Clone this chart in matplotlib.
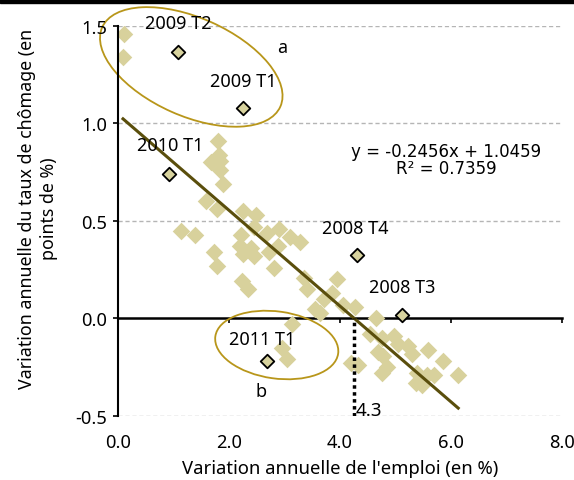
import matplotlib
matplotlib.use("Agg")
import matplotlib.pyplot as plt
from matplotlib.patches import Ellipse, Rectangle
from matplotlib.transforms import ScaledTranslation

plt.rcParams['font.family'] = ['Noto Sans', 'DejaVu Sans']
plt.rcParams['axes.unicode_minus'] = False

# nuage de points : variation de l'emploi (x) / variation du chômage (y)
emploi = [0.11, 0.09, 1.80, 1.82, 1.68, 1.84, 1.84, 1.89, 1.59, 1.78,
          1.14, 1.39, 2.25, 2.49, 2.45, 2.22, 2.68, 2.90, 3.10, 3.28,
          2.20, 2.40, 2.25, 2.45, 2.88, 2.72, 1.73, 1.78, 2.81, 2.23,
          2.34, 3.35, 3.41, 3.71, 3.55, 3.64, 3.95, 3.86, 4.05, 4.27,
          4.65, 4.54, 4.76, 4.97, 5.05, 5.23, 5.30, 4.68, 4.77, 5.59,
          5.86, 6.13, 4.20, 4.32, 4.85, 4.76, 5.39, 5.69, 5.57, 5.37,
          5.48, 3.14, 2.95, 3.05]
chomage = [1.46, 1.34, 0.91, 0.84, 0.80, 0.81, 0.76, 0.69, 0.60, 0.56,
           0.45, 0.43, 0.55, 0.53, 0.47, 0.43, 0.44, 0.46, 0.42, 0.39,
           0.37, 0.36, 0.33, 0.32, 0.37, 0.34, 0.34, 0.27, 0.26, 0.19,
           0.15, 0.21, 0.15, 0.10, 0.05, 0.03, 0.20, 0.13, 0.07, 0.06,
           0.00, -0.08, -0.10, -0.09, -0.13, -0.14, -0.18, -0.17, -0.19, -0.16,
           -0.22, -0.29, -0.23, -0.24, -0.25, -0.28, -0.28, -0.29, -0.29, -0.33,
           -0.34, -0.03, -0.15, -0.21]

# trimestres mis en évidence
trim_labels = ['2009 T2', '2009 T1', '2010 T1', '2008 T4', '2008 T3', '2011 T1']
trim_x = [1.08, 2.25, 0.92, 4.31, 5.12, 2.68]
trim_y = [1.367, 1.08, 0.74, 0.326, 0.018, -0.218]
trim_offsets = [(0, 21), (0, 19.5), (1, 21), (-1.5, 19.5), (0, 20), (-3, 16)]

pente = -0.2456
ordonnee = 1.0459
r2 = 0.7359

xticks = [0, 2, 4, 6, 8]
yticks = [-0.5, 0, 0.5, 1.0, 1.5]

fig = plt.figure(figsize=(5.74, 4.81), dpi=100)
ax = fig.add_axes([0.2056, 0.1331, 0.7735, 0.8108])
fig.patches.append(Rectangle((0, 1 - 4 / 481), 1, 4 / 481, transform=fig.transFigure,
                             color='black', zorder=10))

ax.set_xlim(0, 8)
ax.set_ylim(-0.5, 1.5)

# grille
for yv in yticks:
    if yv != 0:
        ax.axhline(yv, color='#b5b5b5', lw=1, ls=(0, (3, 2)), zorder=0)

ax.scatter(emploi, chomage, marker='D', s=80, color='#d8d19c', linewidths=0, zorder=2)

# droite de régression
x0, x1 = min(emploi), max(emploi)
ax.plot([x0, x1], [pente * x0 + ordonnee, pente * x1 + ordonnee], color='#5a4e0c', lw=2.2, zorder=3)

ax.scatter(trim_x, trim_y, marker='D', s=48, color='#d8d39e', edgecolors='black',
           linewidths=1.3, zorder=4)
for lab, xx, yy, off in zip(trim_labels, trim_x, trim_y, trim_offsets):
    ax.annotate(lab, (xx, yy), xytext=off, textcoords='offset points', ha='center',
                va='center', fontsize=13, annotation_clip=False, zorder=5)

ax.text(5.91, 0.815, 'y = %.4fx + %.4f\nR² = %.4f' % (pente, ordonnee, r2), ha='center',
        va='center', fontsize=12, linespacing=0.95, family='DejaVu Sans')

# point d'intersection
x_int = -ordonnee / pente
ax.vlines(x_int, -0.5, 0, colors='black', lw=2.5, linestyles=(0, (1, 1)), zorder=5)
ax.text(x_int + 0.03, -0.468, '%.1f' % x_int, fontsize=13.5, fontweight='bold', va='center')

ax.text(2.95, 1.39, 'a', fontsize=13, fontweight='bold', ha='center', va='center')
ax.text(2.58, -0.37, 'b', fontsize=13, fontweight='bold', ha='center', va='center')

# ellipses
ell_col = '#b8961a'
ea = Ellipse((0, 0), 1.95, 0.98, angle=-24, fill=False, ec=ell_col, lw=1.3, clip_on=False,
             transform=fig.dpi_scale_trans + ScaledTranslation(1.32, 1.29, ax.transData))
eb = Ellipse((0, 0), 1.24, 0.67, angle=-8, fill=False, ec=ell_col, lw=1.3, clip_on=False,
             transform=fig.dpi_scale_trans + ScaledTranslation(2.86, -0.136, ax.transData))
ax.add_patch(ea)
ax.add_patch(eb)

# axes
for s in ['top', 'right', 'bottom']:
    ax.spines[s].set_visible(False)
ax.spines['left'].set_linewidth(1.5)
ax.set_yticks(yticks)
ax.set_yticklabels(['%.1f' % v for v in yticks])
ax.set_xticks(xticks)
ax.set_xticklabels(['%.1f' % v for v in xticks])
ax.tick_params(axis='y', length=3.6, width=1.2, pad=4, labelsize=13.2)
ax.tick_params(axis='x', length=0, pad=12, labelsize=13.2)

sec = ax.secondary_xaxis(0.25)
sec.set_xticks(xticks)
sec.set_xticklabels([])
sec.spines['bottom'].set_linewidth(1.8)
sec.tick_params(axis='x', length=3.6, width=1.2, direction='out')

ax.set_xlabel("Variation annuelle de l'emploi (en %)", fontsize=13.3, labelpad=6)
ax.set_ylabel('Variation annuelle du taux de chômage (en\npoints de %)', fontsize=12.8,
              linespacing=1.3)
ax.yaxis.set_label_coords(-0.135, 0.533)

fig.savefig('out.png', dpi=100)
